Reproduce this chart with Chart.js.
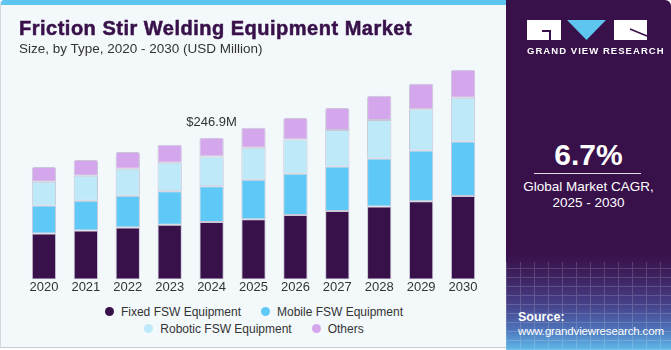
<!DOCTYPE html>
<html>
<head>
<meta charset="utf-8">
<script src="https://cdn.jsdelivr.net/npm/chart.js@4.4.1/dist/chart.umd.min.js"></script>
<style>
  html,body{margin:0;padding:0;}
  body{width:671px;height:350px;position:relative;overflow:hidden;background:#ffffff;font-family:"Liberation Sans",Arial,sans-serif;}
  #left{position:absolute;left:0;top:0;width:506px;height:348px;background:#f3f8fb;border-left:1px solid #d4d8dc;border-bottom:1px solid #c8cccf;box-sizing:border-box;border-top-left-radius:4px;overflow:hidden;}
  #strip{position:absolute;left:0;top:0;width:506px;height:5px;background:#5ec5ef;}
  #title{position:absolute;left:18px;top:17px;font-family:"Liberation Sans",Arial,sans-serif;font-weight:bold;font-size:20px;color:#38104a;letter-spacing:0.5px;white-space:nowrap;-webkit-text-stroke:0.5px #38104a;}
  #subtitle{position:absolute;left:18px;top:41px;font-size:13.5px;color:#333;white-space:nowrap;}
  #chartbox{position:absolute;left:0;top:0;width:506px;height:295px;}
  #legend{position:absolute;left:0;top:303px;width:506px;font-size:12px;color:#333;}
  .lrow{display:flex;justify-content:center;height:17px;align-items:center;}
  .litem{display:flex;align-items:center;margin:0 10px;white-space:nowrap;}
  .ldot{width:9px;height:9px;border-radius:50%;margin-right:7px;}
  #right{position:absolute;left:506px;top:0;width:165px;height:350px;border-top-right-radius:6px;overflow:hidden;
    background:linear-gradient(180deg,#38104a 0%,#38104a 72%,#3e2260 79%,#46418a 87%,#4d72b8 94%,#5fb8ea 100%);}
  #grid{position:absolute;left:0;top:262px;width:165px;height:88px;opacity:0.16;
    background-image:repeating-linear-gradient(90deg,#ffffff 0 1px,transparent 1px 14px),repeating-linear-gradient(0deg,#ffffff 0 1px,transparent 1px 9px);}
  #cagr{position:absolute;left:0;width:165px;top:138px;text-align:center;color:#fff;font-weight:bold;font-size:30px;}
  #rule{position:absolute;left:28px;width:107px;top:173px;height:1px;background:#ffffff;opacity:0.85;}
  #cagrtxt{position:absolute;left:0;width:165px;top:179px;text-align:center;color:#fff;font-size:13.5px;line-height:16px;}
  #src{position:absolute;left:12px;top:310px;color:#fff;font-size:11.5px;line-height:14px;letter-spacing:-0.15px;}
  #src b{font-size:12.5px;letter-spacing:0;}
  #gvr{position:absolute;left:21px;top:45px;color:#fff;font-weight:bold;font-size:9.5px;letter-spacing:1.05px;white-space:nowrap;}
</style>
</head>
<body>
<div id="left">
  <div id="strip"></div>
  <div id="chartbox"><canvas id="c" width="506" height="295"></canvas></div>
  <div id="title">Friction Stir Welding Equipment Market</div>
  <div id="subtitle">Size, by Type, 2020 - 2030 (USD Million)</div>
  <div id="legend"></div>
</div>
<div id="right">
  <div id="grid"></div>
  <svg style="position:absolute;left:0;top:0" width="165" height="60">
    <rect x="21" y="20" width="34" height="20" fill="#ffffff"/>
    <rect x="36" y="30" width="9" height="2" fill="#38104a"/>
    <rect x="43" y="30" width="2" height="10" fill="#38104a"/>
    <polygon points="61,20 100,20 80.5,40" fill="#5ec5ef"/>
    <rect x="108" y="20" width="33" height="20" fill="#ffffff"/>
    <line x1="124" y1="29" x2="141" y2="36" stroke="#38104a" stroke-width="1.5"/>
  </svg>
  <div id="gvr">GRAND VIEW RESEARCH</div>
  <div id="cagr">6.7%</div>
  <div id="rule"></div>
  <div id="cagrtxt">Global Market CAGR,<br>2025 - 2030</div>
  <div id="src"><b>Source:</b><br>www.grandviewresearch.com</div>
</div>
<script>
const years = ["2020","2021","2022","2023","2024","2025","2026","2027","2028","2029","2030"];
const fixedFSW   = [80.0, 85.3, 90.5, 95.1, 100.3, 105.1, 112.1, 119.1, 127.3, 136.1, 145.3];
const mobileFSW  = [49.0, 51.8, 55.3, 58.5, 62.0, 68.8, 72.3, 77.6, 83.3, 88.6, 95.1];
const roboticFSW = [41.3, 43.8, 47.3, 49.6, 51.8, 55.5, 59.5, 63.7, 67.2, 71.8, 76.5];
const others     = [25.7, 27.5, 29.2, 31.5, 32.7, 35.0, 37.5, 38.5, 42.5, 44.5, 48.5];
const seriesNames = ["Fixed FSW Equipment","Mobile FSW Equipment","Robotic FSW Equipment","Others"];
const seriesColors = ["#38104a","#5ec8f6","#bde9f9","#d4a7ec"];
const annotationIndex = 4;
const annotationText = "$246.9M";

const seriesData = [fixedFSW, mobileFSW, roboticFSW, others];
const datasets = seriesData.map((d,i)=>({
  label: seriesNames[i],
  data: d,
  backgroundColor: seriesColors[i],
  borderColor: "rgba(150,140,170,0.45)",
  borderWidth: 1,
  borderSkipped: false,
  borderRadius: i===3 ? {topLeft:2,topRight:2} : 0,
  barPercentage: 0.58,
  categoryPercentage: 1.0
}));

const annotatePlugin = {
  id:'annot',
  afterDatasetsDraw(chart){
    const x = chart.scales.x.getPixelForValue(annotationIndex);
    let total = 0; seriesData.forEach(s=>total+=s[annotationIndex]);
    const y = chart.scales.y.getPixelForValue(total);
    const ctx = chart.ctx;
    ctx.save();
    ctx.font = '13px "Liberation Sans", Arial, sans-serif';
    ctx.fillStyle = '#333333';
    ctx.textAlign = 'center';
    ctx.textBaseline = 'middle';
    ctx.fillText(annotationText, x, y - 15);
    ctx.restore();
  }
};

new Chart(document.getElementById('c'), {
  type:'bar',
  data:{labels:years, datasets},
  options:{
    responsive:false,
    animation:false,
    layout:{padding:{left:22,right:23,top:50,bottom:0}},
    plugins:{legend:{display:false},tooltip:{enabled:false}},
    scales:{
      x:{stacked:true,grid:{display:false,drawTicks:false},border:{display:false},
         ticks:{color:'#333333',font:{size:13,family:'"Liberation Sans", Arial, sans-serif'},padding:0}},
      y:{stacked:true,display:false,min:0,max:400}
    }
  },
  plugins:[annotatePlugin]
});

const leg = document.getElementById('legend');
for(let r=0;r<2;r++){
  const row = document.createElement('div'); row.className='lrow';
  for(let k=0;k<2;k++){
    const i = r*2+k;
    const it = document.createElement('div'); it.className='litem';
    it.innerHTML = '<span class="ldot" style="background:'+seriesColors[i]+'"></span>'+seriesNames[i];
    row.appendChild(it);
  }
  leg.appendChild(row);
}
</script>
</body>
</html>
